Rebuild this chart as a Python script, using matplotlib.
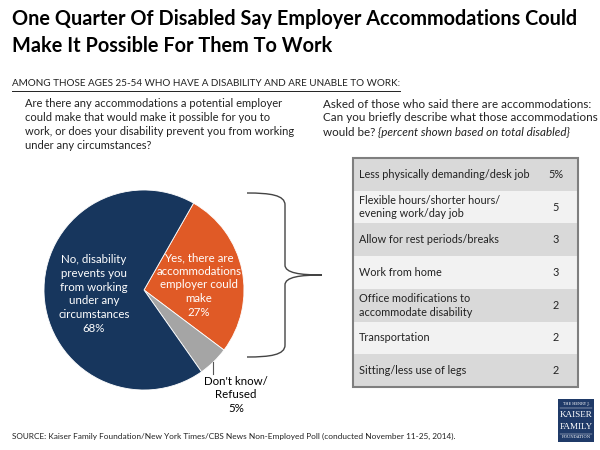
import matplotlib.pyplot as plt
from matplotlib.patches import Rectangle, PathPatch
from matplotlib.path import Path

plt.rcParams['font.family'] = ['Lato', 'DejaVu Sans']

# ---- data ----
pie_labels = ['Yes, there are\naccommodations\nemployer could\nmake', "Don't know/\nRefused",
              'No, disability\nprevents you\nfrom working\nunder any\ncircumstances']
pie_values = [27, 5, 68]
pie_colors = ['#E05A26', '#A5A5A5', '#17365D']

acc_items = ['Less physically demanding/desk job',
             'Flexible hours/shorter hours/\nevening work/day job',
             'Allow for rest periods/breaks',
             'Work from home',
             'Office modifications to\naccommodate disability',
             'Transportation',
             'Sitting/less use of legs']
acc_values = ['5%', '5', '3', '3', '2', '2', '2']

title = 'One Quarter Of Disabled Say Employer Accommodations Could\nMake It Possible For Them To Work'
subtitle = 'AMONG THOSE AGES 25-54 WHO HAVE A DISABILITY AND ARE UNABLE TO WORK:'
q_left = ('Are there any accommodations a potential employer\ncould make that would make it possible for you to\n'
          'work, or does your disability prevent you from working\nunder any circumstances?')
q_right = 'Asked of those who said there are accommodations:\nCan you briefly describe what those accommodations'
q_right_end = 'would be? '
q_right_it = '{percent shown based on total disabled}'
source = 'SOURCE: Kaiser Family Foundation/New York Times/CBS News Non-Employed Poll (conducted November 11-25, 2014).'

fig = plt.figure(figsize=(6, 4.5), dpi=100)

# ---- pie ----
pax = fig.add_axes([44 / 600, (450 - 390) / 450, 200 / 600, 200 / 450])
wedges, _ = pax.pie(pie_values, colors=pie_colors, startangle=60.3, counterclock=False,
                    wedgeprops=dict(edgecolor='white', linewidth=0.6))
pax.set_aspect('equal')
pax.set_xlim(-1.0, 1.0)
pax.set_ylim(-1.0, 1.0)

ax = fig.add_axes([0, 0, 1, 1])
ax.set_zorder(3)
ax.set_xlim(0, 600)
ax.set_ylim(450, 0)
ax.axis('off')

# ---- texts ----
ax.text(12, 9, title, fontsize=14.35, fontweight='bold', va='top', ha='left', linespacing=1.45, color='black')
sub = ax.text(12, 84, subtitle, fontsize=7.15, va='center', ha='left', color='#222222')
ax.text(25, 98, q_left, fontsize=8.0, va='top', ha='left', linespacing=1.32, color='#222222')
ax.text(323, 99, q_right, fontsize=8.4, va='top', ha='left', linespacing=1.22, color='#222222')
end = ax.text(323, 133, q_right_end, fontsize=8.4, va='center', ha='left', color='#222222')
ax.text(12, 436, source, fontsize=5.95, va='center', ha='left', color='#222222')

fig.canvas.draw()
inv = ax.transData.inverted()
bb = sub.get_window_extent().transformed(inv)
ax.plot([bb.x0, bb.x1], [90.5, 90.5], color='#222222', lw=0.7)
be = end.get_window_extent().transformed(inv)
ax.text(be.x1, 133, q_right_it, fontsize=8.4, va='center', ha='left', style='italic', color='#222222')

# ---- pie labels ----
ax.text(199, 285, pie_labels[0] + '\n%d%%' % pie_values[0], fontsize=8.3, color='white',
        ha='center', va='center', linespacing=1.3)
ax.text(94, 294, pie_labels[2] + '\n%d%%' % pie_values[2], fontsize=8.3, color='white',
        ha='center', va='center', linespacing=1.3)
ax.text(236, 395, pie_labels[1] + '\n%d%%' % pie_values[1], fontsize=8.3, color='black',
        ha='center', va='center', linespacing=1.25)
ax.plot([213, 213], [362, 374], color='#555555', lw=0.8)

# ---- brace ----
verts = [(247, 193), (270, 193), (285, 195), (285, 205),
         (285, 265), (285, 273), (300, 275), (322, 275),
         (300, 275), (285, 277), (285, 285),
         (285, 345), (285, 355), (270, 357), (247, 357)]
codes = [Path.MOVETO, Path.CURVE4, Path.CURVE4, Path.CURVE4,
         Path.LINETO, Path.CURVE4, Path.CURVE4, Path.CURVE4,
         Path.CURVE4, Path.CURVE4, Path.CURVE4,
         Path.LINETO, Path.CURVE4, Path.CURVE4, Path.CURVE4]
ax.add_patch(PathPatch(Path(verts, codes), fill=False, edgecolor='#444444', lw=1.0))

# ---- table ----
t_x0, t_x1, t_y0, t_y1 = 353, 578, 158, 387
row_h = (t_y1 - t_y0) / len(acc_items)
for i, (item, val) in enumerate(zip(acc_items, acc_values)):
    y = t_y0 + i * row_h
    ax.add_patch(Rectangle((t_x0, y), t_x1 - t_x0, row_h,
                           facecolor='#D9D9D9' if i % 2 == 0 else '#F2F2F2', edgecolor='none'))
    ax.text(359, y + row_h / 2, item, fontsize=7.8, va='center', ha='left', linespacing=1.3, color='#222222')
    ax.text(556, y + row_h / 2, val, fontsize=7.8, va='center', ha='center', color='#222222')
ax.add_patch(Rectangle((t_x0, t_y0), t_x1 - t_x0, t_y1 - t_y0, fill=False, edgecolor='#7F7F7F', lw=1.5))

# ---- logo ----
ax.add_patch(Rectangle((558, 399), 36, 43, facecolor='#1F3A68', edgecolor='none'))
ax.text(576, 404, 'THE HENRY J.', fontsize=2.6, color='white', ha='center', va='center', family='DejaVu Serif')
ax.plot([560, 592], [407.5, 407.5], color='white', lw=0.3)
ax.text(576, 415, 'KAISER', fontsize=6.6, color='white', ha='center', va='center', family='Liberation Serif')
ax.text(576, 427, 'FAMILY', fontsize=6.6, color='white', ha='center', va='center', family='Liberation Serif')
ax.plot([560, 592], [433.5, 433.5], color='white', lw=0.3)
ax.text(576, 437.5, 'FOUNDATION', fontsize=2.8, color='white', ha='center', va='center', family='DejaVu Serif')

fig.savefig('out.png', dpi=100)
